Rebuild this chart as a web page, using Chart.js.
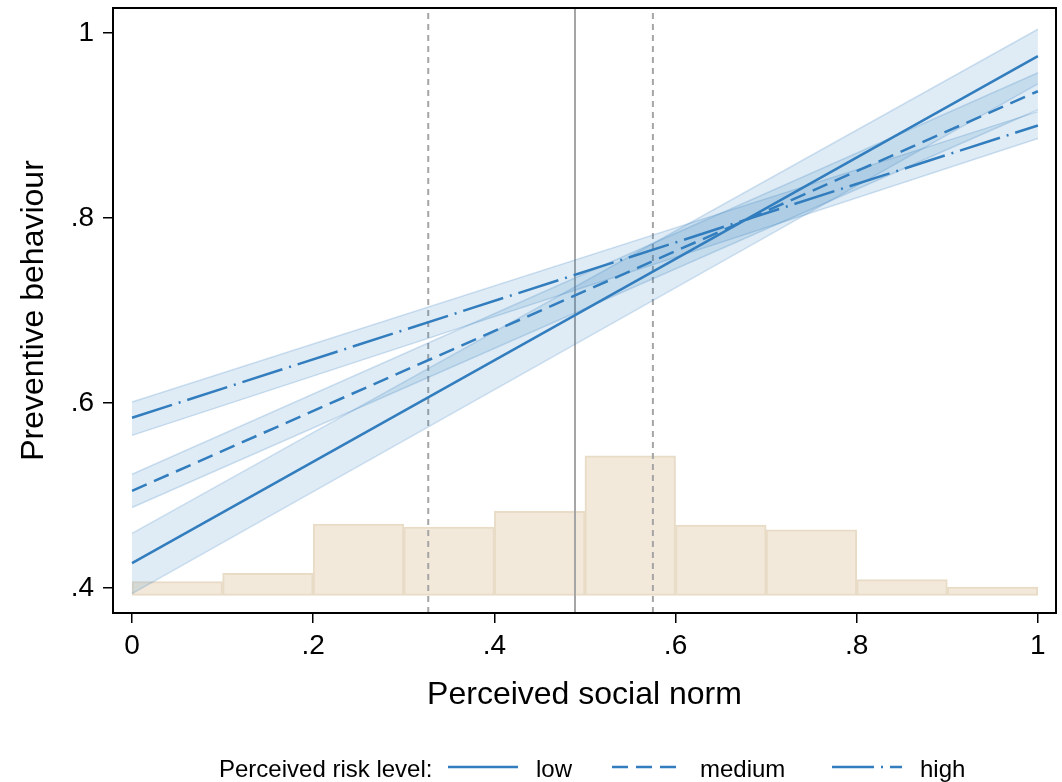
<!DOCTYPE html>
<html>
<head>
<meta charset="utf-8">
<script src="https://cdn.jsdelivr.net/npm/chart.js@4.4.1/dist/chart.umd.min.js"></script>
<style>
  html, body { margin: 0; padding: 0; background: #fff; }
  #wrap { width: 1062px; height: 782px; position: relative; }
</style>
</head>
<body>
<div id="wrap"><canvas id="chart"></canvas></div>
<script>
// --- données ---
const xEnds = [0, 1];
const lowFit = [0.427, 0.975];
const lowUpper = [0.459, 1.004];
const lowLower = [0.394, 0.945];
const medFit = [0.505, 0.937];
const medUpper = [0.523, 0.957];
const medLower = [0.487, 0.917];
const highFit = [0.584, 0.900];
const highUpper = [0.601, 0.915];
const highLower = [0.565, 0.886];

// histogramme (bins de 0.1)
const binCenters = [0.05, 0.15, 0.25, 0.35, 0.45, 0.55, 0.65, 0.75, 0.85, 0.95];
const binTops = [0.407, 0.416, 0.469, 0.466, 0.483, 0.543, 0.468, 0.463, 0.409, 0.401];
const histBase = 0.392;

// lignes verticales (p25, médiane, p75)
const refLines = [0.327, 0.489, 0.575];

const xTicks = [0, 0.2, 0.4, 0.6, 0.8, 1];
const yTicks = [0.4, 0.6, 0.8, 1];
const xRange = [-0.021, 1.02];
const yRange = [0.373, 1.027];

const riskLabels = ['low', 'medium', 'high'];

// --- styles ---
const blue = 'rgb(50,125,190)';
const bandFill = 'rgba(50,125,190,0.15)';
const bandEdge = 'rgba(50,125,190,0.22)';
const dashes = [[], [16, 8], [42, 7, 2, 7]];
const FONT = "'Liberation Sans', Arial, sans-serif";

const pts = ys => xEnds.map((x, i) => ({ x: x, y: ys[i] }));
const fmt = v => v === 0 ? '0' : v === 1 ? '1' : String(Math.round(v * 10) / 10).replace(/^0/, '');

const datasets = [];
const fits = [lowFit, medFit, highFit];
const uppers = [lowUpper, medUpper, highUpper];
const lowers = [lowLower, medLower, highLower];

// lignes de prédiction (dessus)
fits.forEach((f, i) => {
    datasets.push({
        type: 'line', label: riskLabels[i], data: pts(f),
        borderColor: blue, borderWidth: 2.5, borderDash: dashes[i],
        pointRadius: 0, fill: false, order: 1
    });
});
// intervalles de confiance
uppers.forEach((u, i) => {
    datasets.push({
        type: 'line', label: 'ci_up_' + i, data: pts(u),
        borderColor: bandEdge, borderWidth: 1.5, pointRadius: 0,
        backgroundColor: bandFill, fill: '+1', order: 2
    });
    datasets.push({
        type: 'line', label: 'ci_lo_' + i, data: pts(lowers[i]),
        borderColor: bandEdge, borderWidth: 1.5, pointRadius: 0,
        fill: false, order: 2
    });
});
// lignes verticales
refLines.forEach((x, i) => {
    datasets.push({
        type: 'line', label: 'ref_' + i,
        data: [{ x: x, y: yRange[0] }, { x: x, y: yRange[1] }],
        borderColor: 'rgb(165,165,165)', borderWidth: 2,
        borderDash: i === 1 ? [] : [6, 5], pointRadius: 0, fill: false, order: 3
    });
});
// histogramme
datasets.push({
    type: 'bar', label: 'hist',
    data: binCenters.map((x, i) => ({ x: x, y: [histBase, binTops[i]] })),
    backgroundColor: 'rgb(242,233,219)', borderColor: 'rgb(233,220,199)',
    borderWidth: 2, borderSkipped: false,
    barPercentage: 1, categoryPercentage: 1, order: 4
});

const frameAndLegend = {
    id: 'frameAndLegend',
    afterDraw(chart) {
        const { ctx, chartArea: a } = chart;
        ctx.save();
        ctx.strokeStyle = '#000';
        ctx.lineWidth = 2;
        ctx.strokeRect(a.left, a.top, a.right - a.left, a.bottom - a.top);

        // légende en bas
        ctx.font = '24px ' + FONT;
        ctx.fillStyle = '#000';
        ctx.textBaseline = 'alphabetic';
        ctx.fillText('Perceived risk level:', 219, 777);
        const lineX = [448, 612, 832];
        lineX.forEach((x0, i) => {
            ctx.strokeStyle = blue;
            ctx.lineWidth = 2.5;
            ctx.setLineDash(dashes[i]);
            ctx.beginPath();
            ctx.moveTo(x0, 767);
            ctx.lineTo(x0 + 70, 767);
            ctx.stroke();
            ctx.setLineDash([]);
            ctx.fillText(riskLabels[i], x0 + 88, 777);
        });
        ctx.restore();
    }
};

new Chart(document.getElementById('chart'), {
    data: { datasets: datasets },
    options: {
        responsive: true,
        maintainAspectRatio: false,
        animation: false,
        layout: { padding: { top: 8, right: 6, bottom: 56, left: 0 } },
        plugins: { legend: { display: false }, tooltip: { enabled: false } },
        scales: {
            x: {
                type: 'linear', min: xRange[0], max: xRange[1], offset: false,
                afterBuildTicks: s => { s.ticks = xTicks.map(v => ({ value: v })); },
                afterFit: s => { s.height = 113; s.paddingLeft = 0; s.paddingRight = 0; },
                ticks: { callback: v => fmt(v), color: '#000', font: { family: FONT, size: 28 }, padding: 6, maxRotation: 0 },
                grid: { offset: false, drawOnChartArea: false, drawTicks: true, tickLength: 10, color: '#000', lineWidth: 1.5 },
                border: { display: false },
                title: { display: true, text: 'Perceived social norm', color: '#000', font: { family: FONT, size: 32 }, padding: { top: 0, bottom: 12 } }
            },
            y: {
                type: 'linear', min: yRange[0], max: yRange[1],
                afterBuildTicks: s => { s.ticks = yTicks.map(v => ({ value: v })); },
                afterFit: s => { s.width = 113; s.paddingTop = 0; s.paddingBottom = 0; },
                ticks: { callback: v => fmt(v), color: '#000', font: { family: FONT, size: 28 }, padding: 9 },
                grid: { drawOnChartArea: false, drawTicks: true, tickLength: 10, color: '#000', lineWidth: 1.5 },
                border: { display: false },
                title: { display: true, text: 'Preventive behaviour', color: '#000', font: { family: FONT, size: 32 }, padding: { top: 15, bottom: 0 } }
            }
        }
    },
    plugins: [frameAndLegend]
});
</script>
</body>
</html>
